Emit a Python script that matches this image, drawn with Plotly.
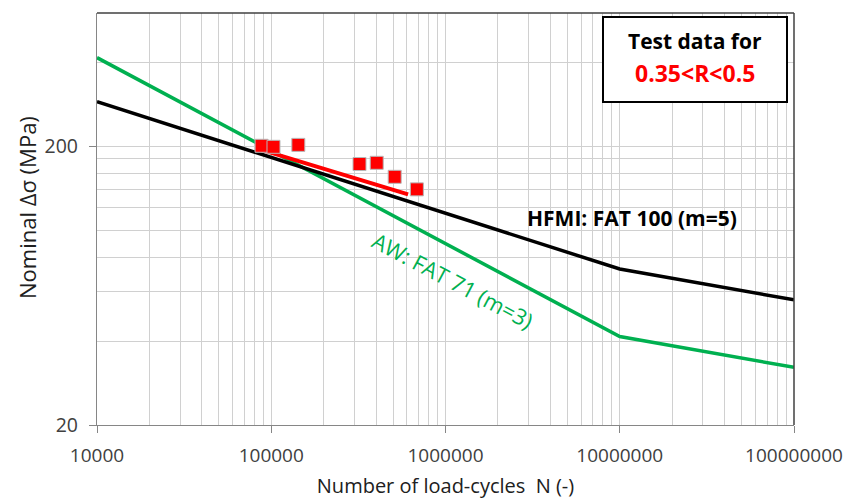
import plotly.graph_objects as go

# S-N curves
N_curve = [1e4, 1e7, 1e8]
hfmi_fat100 = [288.5, 72.5, 56.2]
aw_fat71 = [415, 41.5, 32.2]

# Test data 0.35<R<0.5
test_N = [8.8e4, 1.03e5, 1.43e5, 3.21e5, 4.03e5, 5.11e5, 6.85e5]
test_S = [200.5, 198.8, 202, 172.5, 174.2, 155.2, 139.9]

# Regression line through test data
fit_N = [8.9e4, 6.1e5]
fit_S = [193.5, 134.2]

x_major = [1e4, 1e5, 1e6, 1e7, 1e8]
x_labels = ["10000", "100000", "1000000", "10000000", "100000000"]
x_minor = [k * 10**d for d in range(4, 8) for k in range(2, 10)]
y_major = [20, 200]
y_labels = ["20", "200"]
y_minor = [40, 60, 80, 100, 120, 140, 160, 180, 400]

GREEN = "#00B050"
FONT = "Open Sans"
GRID = "#d0d0d0"
AXC = "#868686"

x_grid = x_major + x_minor
x_grid_text = x_labels + [""] * len(x_minor)
y_grid = y_major + y_minor
y_grid_text = y_labels + [""] * len(y_minor)

fig = go.Figure()
fig.add_trace(go.Scatter(x=N_curve, y=aw_fat71, mode="lines",
                         line=dict(color=GREEN, width=3.5), showlegend=False))
fig.add_trace(go.Scatter(x=N_curve, y=hfmi_fat100, mode="lines",
                         line=dict(color="black", width=3.5), showlegend=False))
fig.add_trace(go.Scatter(x=fit_N, y=fit_S, mode="lines",
                         line=dict(color="#FF0000", width=4), showlegend=False))
fig.add_trace(go.Scatter(x=test_N, y=test_S, mode="markers",
                         marker=dict(symbol="square", size=13, color="#FF0000",
                                     line=dict(color="#b8b8b8", width=1)),
                         showlegend=False))
# invisible trace for the tick-mark overlay axes
fig.add_trace(go.Scatter(x=[x_major[0]], y=[y_major[0]], xaxis="x2", yaxis="y2",
                         mode="markers", marker=dict(opacity=0), showlegend=False,
                         hoverinfo="skip"))

fig.update_layout(
    xaxis=dict(type="log", range=[4, 8],
               tickmode="array", tickvals=x_grid, ticktext=x_grid_text,
               showgrid=True, gridcolor=GRID, gridwidth=1.3, ticks="",
               showline=True, linecolor=AXC, linewidth=1.3,
               tickfont=dict(family=FONT, size=19, color="#404040"),
               ticklabelstandoff=13, automargin=False, zeroline=False,
               title=dict(text="Number of load-cycles  N (-)",
                          font=dict(family=FONT, size=20, color="#202020"),
                          standoff=12)),
    yaxis=dict(type="log", range=[1.30103, 2.77815],
               tickmode="array", tickvals=y_grid, ticktext=y_grid_text,
               showgrid=True, gridcolor=GRID, gridwidth=1.3, ticks="",
               showline=True, linecolor=AXC, linewidth=1.3,
               tickfont=dict(family=FONT, size=19.5, color="#404040"),
               ticklabelstandoff=14, automargin=False, zeroline=False),
    xaxis2=dict(type="log", range=[4, 8], overlaying="x", anchor="y2", side="bottom",
                tickmode="array", tickvals=x_major, ticks="outside", ticklen=7,
                tickcolor=AXC, tickwidth=1.3, showticklabels=False, showgrid=False,
                showline=False, zeroline=False, automargin=False),
    yaxis2=dict(type="log", range=[1.30103, 2.77815], overlaying="y", anchor="x2",
                side="left",
                tickmode="array", tickvals=y_major, ticks="outside", ticklen=7,
                tickcolor=AXC, tickwidth=1.3, showticklabels=False, showgrid=False,
                showline=False, zeroline=False, automargin=False),
)

fig.add_shape(type="line", xref="paper", yref="paper", x0=0, x1=1, y0=1, y1=1,
              line=dict(color="#404040", width=1.5))
fig.add_shape(type="line", xref="paper", yref="paper", x0=1, x1=1, y0=0, y1=1,
              line=dict(color="#404040", width=1.5))

# Y axis title (as annotation to match position)
fig.add_annotation(xref="paper", yref="paper", x=(27 - 97) / 697,
                   y=1 - (208 - 13) / 412, text="Nominal Δσ (MPa)", textangle=-90,
                   xanchor="center", yanchor="middle", showarrow=False,
                   font=dict(family=FONT, size=22, color="#202020"))

# Legend-like box
fig.add_shape(type="rect", xref="paper", yref="paper",
              x0=(603 - 97) / 697, x1=(787 - 97) / 697,
              y0=1 - (102 - 13) / 412, y1=1 - (17 - 13) / 412,
              line=dict(color="black", width=2), fillcolor="white", layer="above")
fig.add_annotation(xref="paper", yref="paper", x=(695 - 97) / 697,
                   y=1 - (41 - 13) / 412, text="<b>Test data for</b>",
                   xanchor="center", yanchor="middle",
                   showarrow=False, font=dict(family=FONT, size=21, color="black"))
fig.add_annotation(xref="paper", yref="paper", x=(695 - 97) / 697,
                   y=1 - (73 - 13) / 412, text="<b>0.35&lt;R&lt;0.5</b>",
                   xanchor="center", yanchor="middle",
                   showarrow=False, font=dict(family=FONT, size=23, color="#FF0000"))

fig.add_annotation(xref="paper", yref="paper", x=(632 - 97) / 697,
                   y=1 - (218 - 13) / 412, text="<b>HFMI: FAT 100 (m=5)</b>",
                   xanchor="center", yanchor="middle",
                   showarrow=False, font=dict(family=FONT, size=21, color="black"))
fig.add_annotation(xref="paper", yref="paper", x=(453 - 97) / 697,
                   y=1 - (280 - 13) / 412, text="AW: FAT 71 (m=3)",
                   xanchor="center", yanchor="middle",
                   textangle=28, showarrow=False,
                   font=dict(family=FONT, size=22, color=GREEN))

fig.update_layout(width=861, height=499,
                  margin=dict(l=97, r=67, t=13, b=74),
                  plot_bgcolor="white", paper_bgcolor="white")

fig.write_html("out.html")
